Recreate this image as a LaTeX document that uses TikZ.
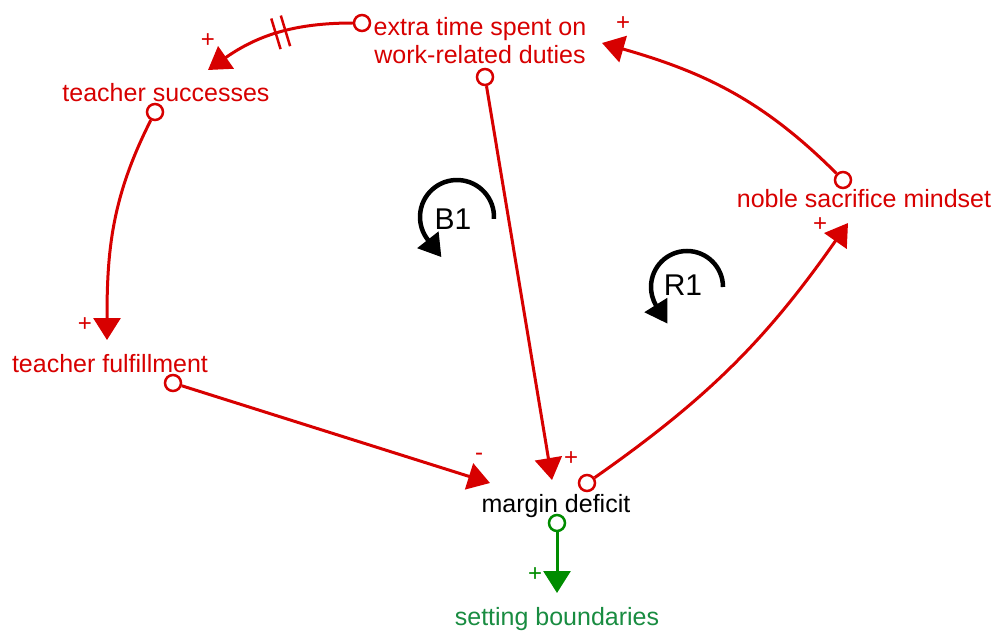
\documentclass[tikz,border=0pt]{standalone}
\usepackage{fontspec}
\setmainfont{Liberation Sans}
\usepackage{xcolor}
\usetikzlibrary{arrows.meta}
\usetikzlibrary{decorations.markings}
\definecolor{cldred}{RGB}{215,0,0}
\definecolor{cldgreen}{RGB}{0,140,0}
\definecolor{cldgreentext}{RGB}{25,140,65}

\begin{document}
\begin{tikzpicture}[x=1pt,y=1pt,
    var/.style={inner sep=0pt,text=cldred,font=\fontsize{25}{28}\selectfont},
    port/.style={circle,draw=cldred,fill=white,line width=2.5pt,minimum size=16pt,inner sep=0pt},
    link/.style={draw=cldred,line width=3pt,-{Triangle[length=22pt,width=27pt]}},
    sign/.style={inner sep=0pt,text=cldred,font=\fontsize{24}{26}\selectfont},
    loopsym/.style={draw=black,line width=4.5pt,-{Triangle[length=22pt,width=26pt]}},
    looplabel/.style={inner sep=0pt,font=\fontsize{30}{32}\selectfont}]
                    \useasboundingbox (0,0) rectangle (995,633);

                    % variables
                    \node[var,anchor=north,align=center] (extra) at (480,616) {extra time spent on\\work-related duties};
                    \node[var,anchor=base] (succ) at (166,531) {teacher successes};
                    \node[var,anchor=base] (fulf) at (110,261) {teacher fulfillment};
                    \node[var,anchor=base] (noble) at (864,425) {noble sacrifice mindset};
                    \node[var,anchor=base,text=black] (margin) at (556,121) {margin deficit};
                    \node[var,anchor=base,text=cldgreentext] (bound) at (557,8) {setting boundaries};

                    % link tails
                    \node[port] (extra-l) at (362,610) {};
                    \node[port] (extra-b) at (485,556) {};
                    \node[port] (succ-p) at (155,521) {};
                    \node[port] (fulf-p) at (173,250) {};
                    \node[port] (noble-p) at (843,453) {};
                    \node[port] (margin-r) at (587,150) {};
                    \node[port,draw=cldgreen] (margin-b) at (557,110) {};

                    % link heads
                    \coordinate (succ-in) at (208,563);
                    \coordinate (fulf-in) at (107,293);
                    \coordinate (margin-l) at (490,150);
                    \coordinate (margin-t) at (552,153);
                    \coordinate (noble-in) at (848,410);
                    \coordinate (extra-in) at (602,590);
                    \coordinate (bound-in) at (557,40);

                    % links
                    \draw[link,postaction={decorate},decoration={markings,
                        mark=at position 0.47 with {\draw[cldred,line width=2.5pt,-] (-5,-16) -- (-5,16) (5,-16) -- (5,16);}}]
                        (extra-l) to[out=180,in=35] (succ-in);
                    \draw[link] (succ-p) to[out=243,in=90] (fulf-in);
                    \draw[link] (fulf-p) -- (margin-l);
                    \draw[link] (extra-b) -- (margin-t);
                    \draw[link] (margin-r) to[out=35,in=235] (noble-in);
                    \draw[link] (noble-p) to[out=135,in=-16] (extra-in);
                    \draw[link,draw=cldgreen] (margin-b) -- (bound-in);

                    % polarities
                    \node[sign] (s1) at (208,592) {+};
                    \node[sign] (s2) at (85,308) {+};
                    \node[sign] (s3) at (479,176) {-};
                    \node[sign] (s4) at (571,174) {+};
                    \node[sign] (s5) at (820,408) {+};
                    \node[sign] (s6) at (623,609) {+};
                    \node[sign,text=cldgreen] (s7) at (535,58) {+};

                    % loop markers
                    \coordinate (B1c) at (457,416);
                    \coordinate (R1c) at (687,346);
                    \draw[loopsym] ([shift={(-3:37)}]B1c) arc[start angle=-3,end angle=218,radius=37] -- ++(-52:22);
                    \draw[loopsym] ([shift={(0:36)}]R1c) arc[start angle=0,end angle=210,radius=36] -- ++(-58:22);
                    \node[looplabel] (B1) at (453,414) {B1};
                    \node[looplabel] (R1) at (683,348) {R1};
                \end{tikzpicture}
\end{document}
